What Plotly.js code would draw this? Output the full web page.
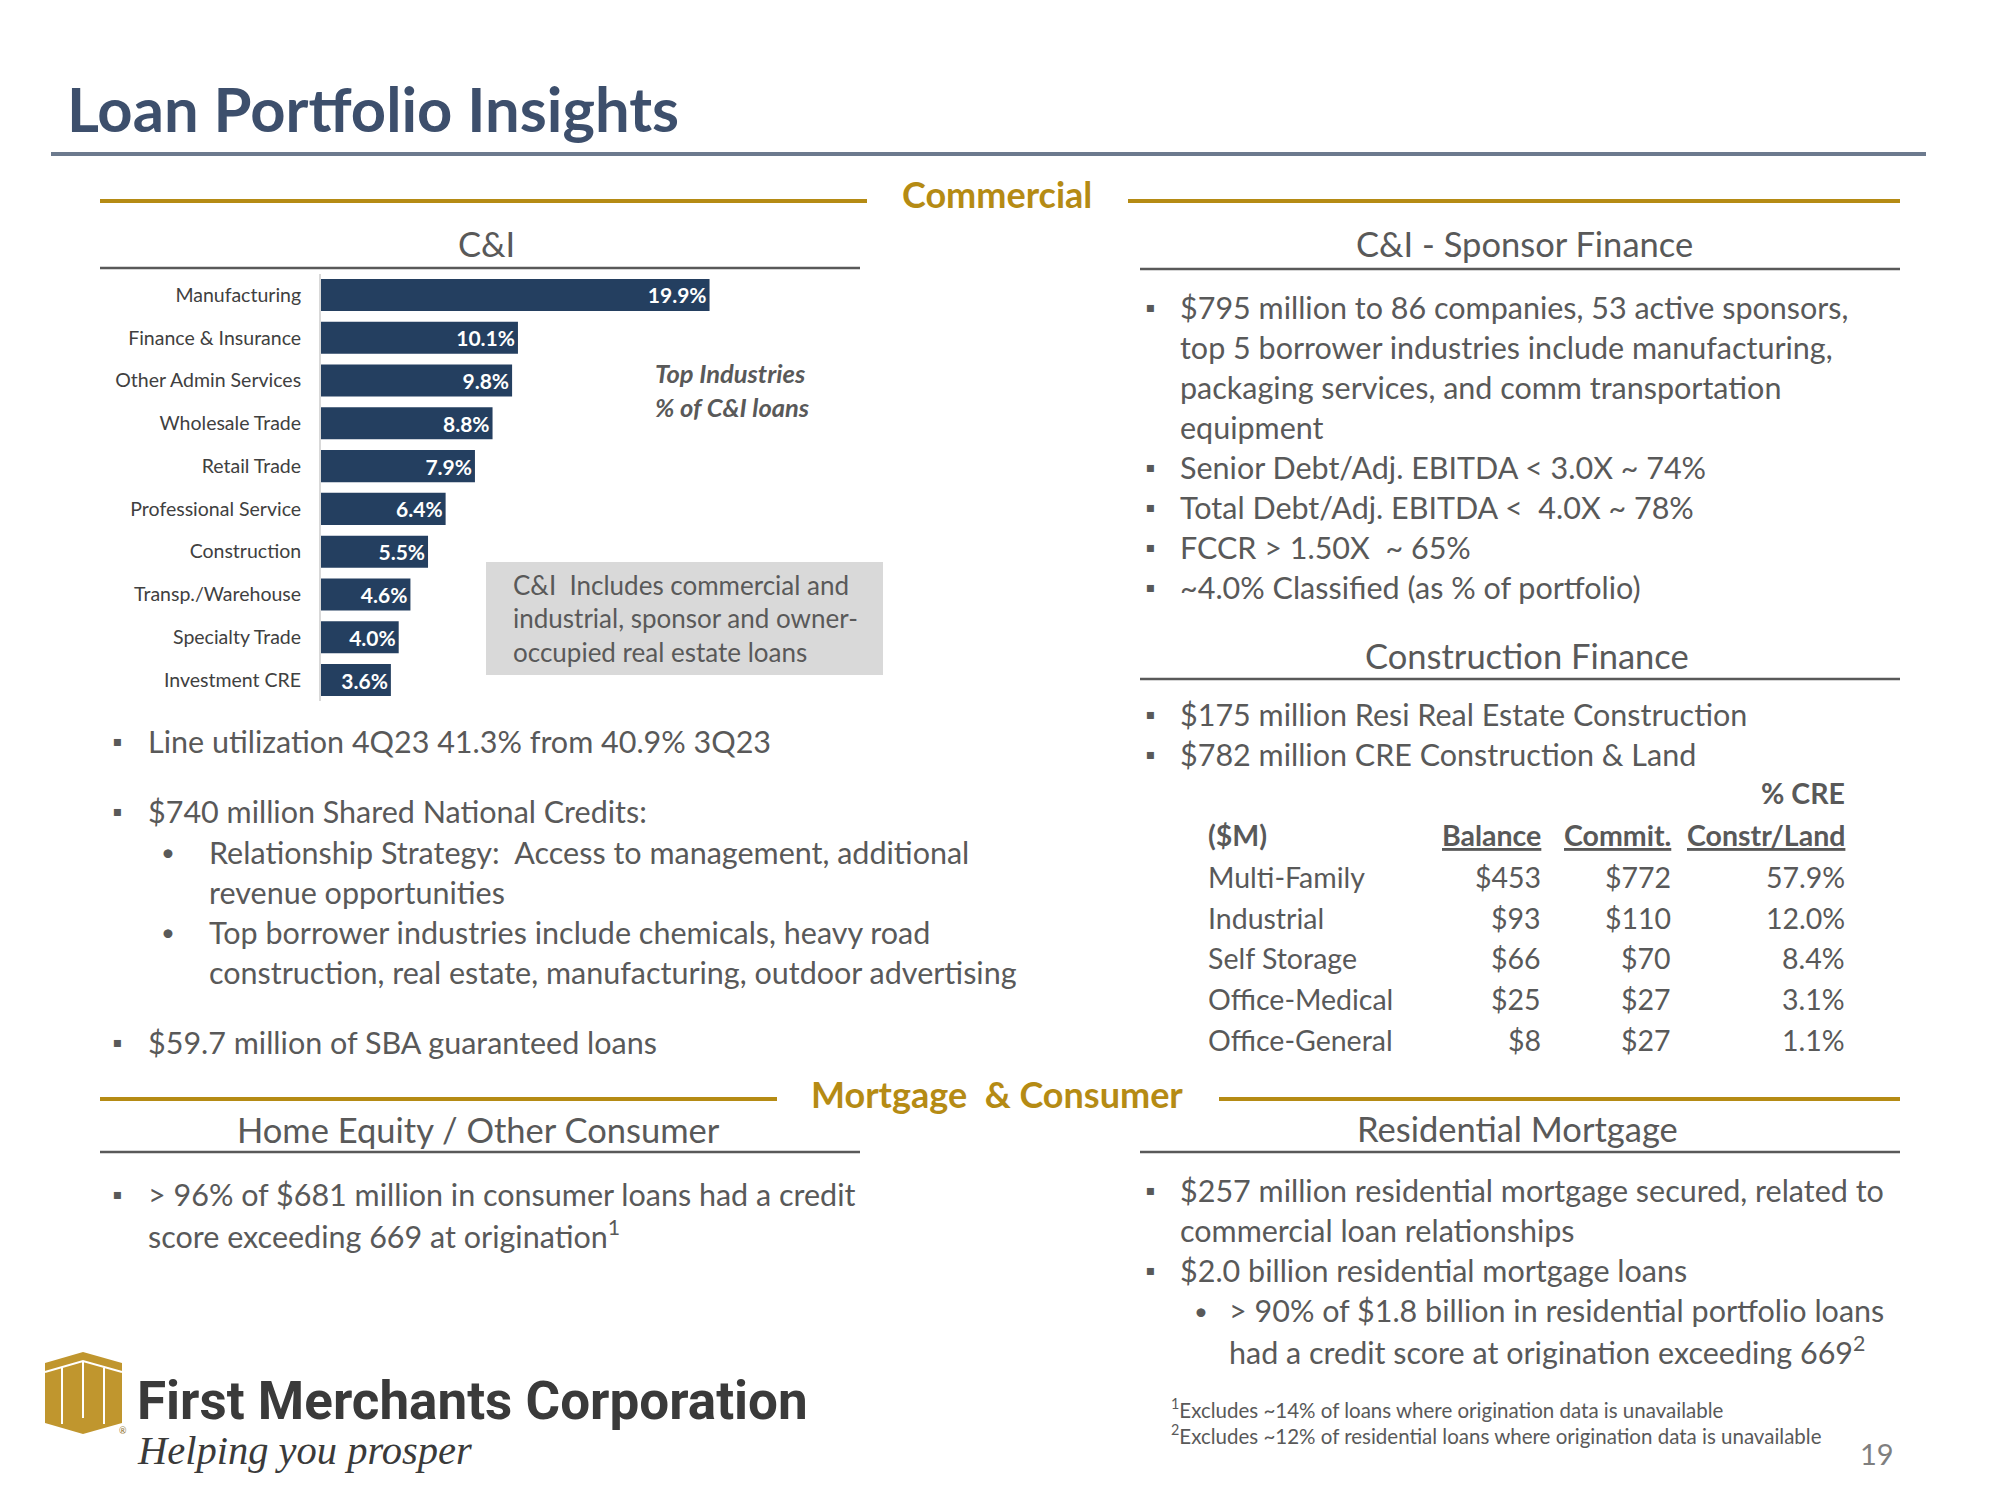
<!DOCTYPE html>
<html><head><meta charset="utf-8">
<script src="https://cdn.plot.ly/plotly-3.0.1.min.js"></script>
<style>html,body{margin:0;padding:0;background:#fff;} #chart{width:2000px;height:1500px;}</style>
</head><body><div id="chart"></div>
<script>
// ---------------- DATA ----------------
const pageTitle = 'Loan Portfolio Insights';
const industries = ['Manufacturing','Finance & Insurance','Other Admin Services','Wholesale Trade','Retail Trade','Professional Service','Construction','Transp./Warehouse','Specialty Trade','Investment CRE'];
const sharePct = [19.9,10.1,9.8,8.8,7.9,6.4,5.5,4.6,4.0,3.6];
const chartNote = ['Top Industries','% of C&I loans'];
const boxNote = ['C&I  Includes commercial and','industrial, sponsor and owner-','occupied real estate loans'];

const ciBullets = ['Line utilization 4Q23 41.3% from 40.9% 3Q23','$740 million Shared National Credits:','$59.7 million of SBA guaranteed loans'];
const sncSubBullets = [['Relationship Strategy:  Access to management, additional','revenue opportunities'],['Top borrower industries include chemicals, heavy road','construction, real estate, manufacturing, outdoor advertising']];
const heBullet = ['> 96% of $681 million in consumer loans had a credit','score exceeding 669 at origination<sup>1</sup>'];

const sponsorLines = ['$795 million to 86 companies, 53 active sponsors,','top 5 borrower industries include manufacturing,','packaging services, and comm transportation','equipment','Senior Debt/Adj. EBITDA < 3.0X ~ 74%','Total Debt/Adj. EBITDA <  4.0X ~ 78%','FCCR > 1.50X  ~ 65%','~4.0% Classified (as % of portfolio)'];
const sponsorBulletOn = [1,0,0,0,1,1,1,1];
const constrBullets = ['$175 million Resi Real Estate Construction','$782 million CRE Construction & Land'];

const cfHeaders = ['($M)','Balance','Commit.','Constr/Land'];
const cfTypes = ['Multi-Family','Industrial','Self Storage','Office-Medical','Office-General'];
const cfBalance = [453,93,66,25,8];
const cfCommit = [772,110,70,27,27];
const cfPctCRE = [57.9,12.0,8.4,3.1,1.1];

const resLines = ['$257 million residential mortgage secured, related to','commercial loan relationships','$2.0 billion residential mortgage loans'];
const resSub = ['> 90% of $1.8 billion in residential portfolio loans','had a credit score at origination exceeding 669<sup>2</sup>'];
const footnotes = ['<sup>1</sup>Excludes ~14% of loans where origination data is unavailable','<sup>2</sup>Excludes ~12% of residential loans where origination data is unavailable'];

// ---------------- STYLE ----------------
const W = 2000, H = 1500;
const BODY = 'Lato, "Open Sans", sans-serif';
const GRAY = '#595959', NAVY = '#243F60', GOLD = '#B58B14', TITLEC = '#3D4F6C';
const BS = 30.5;      // body text size
const HS = 34.5;      // heading size

function T(x, y, text, o) {
  o = o || {};
  const xa = o.xa || 'left';
  return {xref:'paper', yref:'paper', x:x/W, y:1-y/H, text:text, showarrow:false,
    xanchor:xa, yanchor:o.ya || 'middle', align:xa, borderpad:0,
    font:{family:o.family || BODY, size:o.size || BS, color:o.color || GRAY}};
}
function L(x0, y0, x1, y1, color, w) {
  return {type:'line', xref:'paper', yref:'paper', x0:x0/W, x1:x1/W, y0:1-y0/H, y1:1-y1/H, line:{color:color, width:w}};
}
function R(x0, y0, x1, y1, fill) {
  return {type:'rect', xref:'paper', yref:'paper', x0:x0/W, x1:x1/W, y0:1-y0/H, y1:1-y1/H, fillcolor:fill, line:{width:0}, layer:'below'};
}
function P(pts, fill, lineColor, lw, closed) {
  let d = pts.map((p, i) => (i ? 'L' : 'M') + (p[0]/W).toFixed(5) + ',' + (1-p[1]/H).toFixed(5)).join(' ');
  if (closed) d += ' Z';
  return {type:'path', xref:'paper', yref:'paper', path:d, fillcolor:fill || 'rgba(0,0,0,0)', line:{color:lineColor || 'rgba(0,0,0,0)', width:lw || 0}};
}

const ann = [];
const shapes = [];

// Title
ann.push(T(66, 108, '<b>' + pageTitle + '</b>', {size:61.5, color:TITLEC}));
shapes.push(L(51, 154, 1926, 154, '#6C7A8E', 4));

// Section: Commercial
ann.push(T(997, 194, '<b>Commercial</b>', {xa:'center', size:36, color:GOLD}));
shapes.push(L(100, 201, 867, 201, GOLD, 4));
shapes.push(L(1128, 201, 1900, 201, GOLD, 4));

// Headings
ann.push(T(486, 243, 'C&I', {xa:'center', size:HS}));
shapes.push(L(100, 268, 860, 268, GRAY, 2.5));
ann.push(T(1524, 244, 'C&I - Sponsor Finance', {xa:'center', size:HS}));
shapes.push(L(1140, 269, 1900, 269, GRAY, 2.5));
ann.push(T(1527, 655, 'Construction Finance', {xa:'center', size:HS}));
shapes.push(L(1140, 679, 1900, 679, GRAY, 2.5));

// Chart notes
ann.push(T(654, 373, '<b><i>' + chartNote[0] + '</i></b>', {size:25.5}));
ann.push(T(654, 407, '<b><i>' + chartNote[1] + '</i></b>', {size:25.5}));
shapes.push(R(486, 562, 883, 675, '#D9D9D9'));
[585, 618, 652].forEach((y, i) => ann.push(T(512, y, boxNote[i], {size:26})));

// Left bullets
const SQ = '\u25AA';
function bullet(xb, xt, y, text) {
  ann.push(T(xb, y, SQ, {size:26, color:GRAY}));
  ann.push(T(xt, y, text, {size:BS}));
}
function dot(x, y) { ann.push(T(x, y, '\u2022', {size:24})); }
bullet(111, 147, 741, ciBullets[0]);
bullet(111, 147, 811, ciBullets[1]);
dot(160, 852); ann.push(T(208, 852, sncSubBullets[0][0]));
ann.push(T(208, 892, sncSubBullets[0][1]));
dot(160, 932); ann.push(T(208, 932, sncSubBullets[1][0]));
ann.push(T(208, 972, sncSubBullets[1][1]));
bullet(111, 147, 1042, ciBullets[2]);

// Mortgage & Consumer
ann.push(T(997, 1094, '<b>Mortgage  & Consumer</b>', {xa:'center', size:36, color:GOLD}));
shapes.push(L(100, 1099, 777, 1099, GOLD, 4));
shapes.push(L(1219, 1099, 1900, 1099, GOLD, 4));
ann.push(T(478, 1129, 'Home Equity / Other Consumer', {xa:'center', size:HS}));
shapes.push(L(100, 1152, 860, 1152, GRAY, 2.5));
bullet(111, 147, 1194, heBullet[0]);
ann.push(T(147, 1234, heBullet[1]));

// Sponsor finance
const spY = [307, 347, 387, 427, 467, 507, 547, 587];
sponsorLines.forEach((t, i) => {
  if (sponsorBulletOn[i]) ann.push(T(1144, spY[i], SQ, {size:26}));
  ann.push(T(1179, spY[i], t));
});
// Construction
[714, 754].forEach((y, i) => bullet(1144, 1179, y, constrBullets[i]));

// Table
const tSize = 28.5;
const colX = [1207, 1542, 1672, 1846];
ann.push(T(colX[3], 793, '<b>% CRE</b>', {xa:'right', size:tSize}));
ann.push(T(colX[0], 835, '<b>' + cfHeaders[0] + '</b>', {size:tSize}));
for (let c = 1; c < 4; c++) ann.push(T(colX[c], 835, '<b><u>' + cfHeaders[c] + '</u></b>', {xa:'right', size:tSize}));
const rowY = [877, 918, 958, 999, 1040];
cfTypes.forEach((t, i) => {
  ann.push(T(colX[0], rowY[i], t, {size:tSize}));
  ann.push(T(colX[1], rowY[i], '$' + cfBalance[i], {xa:'right', size:tSize}));
  ann.push(T(colX[2], rowY[i], '$' + cfCommit[i], {xa:'right', size:tSize}));
  ann.push(T(colX[3], rowY[i], cfPctCRE[i].toFixed(1) + '%', {xa:'right', size:tSize}));
});

// Residential mortgage
ann.push(T(1517, 1128, 'Residential Mortgage', {xa:'center', size:HS}));
shapes.push(L(1140, 1152, 1900, 1152, GRAY, 2.5));
bullet(1144, 1179, 1190, resLines[0]);
ann.push(T(1179, 1230, resLines[1]));
bullet(1144, 1179, 1270, resLines[2]);
dot(1193, 1310); ann.push(T(1228, 1310, resSub[0]));
ann.push(T(1228, 1350, resSub[1]));
ann.push(T(1170, 1408, footnotes[0], {size:20.5}));
ann.push(T(1170, 1434, footnotes[1], {size:20.5}));
ann.push(T(1895, 1453, '19', {xa:'right', size:29, color:'#7F7F7F'}));

// Logo
shapes.push(P([[45,1363],[83,1352],[122,1363],[122,1423],[83,1434],[45,1423]], '#C0962E', null, 0, true));
shapes.push(P([[45,1372],[83,1361],[122,1372]], null, '#FFFFFF', 2, false));
[[62,1368],[83,1362],[104,1368]].forEach(p => shapes.push(P([[p[0],p[1]],[p[0],p[1]+56]], null, '#FFFFFF', 2, false)));
ann.push(T(118, 1430, '\u00AE', {size:9, color:'#8C6D1F'}));
ann.push(T(136, 1401, '<b>First Merchants Corporation</b>', {size:53, color:'#3A3A3A', family:'Roboto, "DejaVu Sans Condensed", sans-serif'}));
ann.push(T(136, 1450, '<i>Helping you prosper</i>', {size:40.5, color:'#3A3A3A', family:'"Liberation Serif", "DejaVu Serif", serif'}));

// ---------------- CHART ----------------
const trace = {
  type:'bar', orientation:'h', x:sharePct, y:industries,
  marker:{color:NAVY}, texttemplate:'<b>%{x:.1f}%</b>', textposition:'inside', insidetextanchor:'end',
  textfont:{family:BODY, size:21, color:'#FFFFFF'}, constraintext:'none', cliponaxis:false, hoverinfo:'skip'
};
const layout = {
  width:W, height:H, margin:{l:0, r:0, t:0, b:0}, paper_bgcolor:'#FFFFFF', plot_bgcolor:'rgba(0,0,0,0)',
  showlegend:false, bargap:0.25,
  xaxis:{domain:[320.5/W, 711.5/W], range:[0,20], visible:false, fixedrange:true},
  yaxis:{domain:[1-701.4/H, 1-273.6/H], autorange:'reversed', showline:true, linecolor:'#D9D9D9', linewidth:1.5,
    ticks:'', ticklabelstandoff:14, tickfont:{family:BODY, size:19.5, color:'#404040'}, showgrid:false, zeroline:false, fixedrange:true},
  annotations:ann, shapes:shapes
};
Plotly.newPlot('chart', [trace], layout, {displayModeBar:false, staticPlot:true});
</script></body></html>
